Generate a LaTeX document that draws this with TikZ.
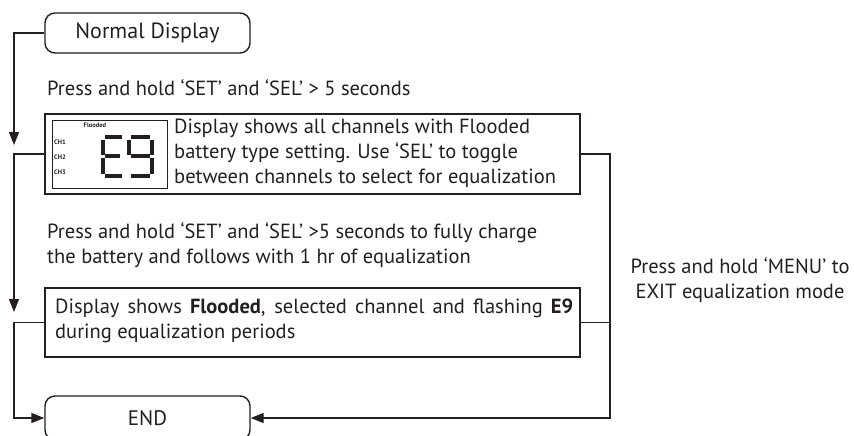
\documentclass[tikz,border=0pt]{standalone}
\usepackage{fontspec}
\setmainfont{PT Sans}
\usetikzlibrary{arrows.meta}
\definecolor{ink}{HTML}{231F20}
\begin{document}
\begin{tikzpicture}[x=1pt,y=-1pt,
  line/.style={draw=ink,line width=1.4pt},
  arr/.style={line,-{Triangle[length=13pt,width=10pt]}},
  term/.style={draw=ink,line width=1.4pt,rounded corners=10pt,minimum width=205pt,minimum height=40pt,inner sep=0pt,font=\fontsize{21}{24}\selectfont,text=ink},
  box/.style={draw=ink,line width=1.4pt,minimum width=535pt,inner sep=0pt},
  txt/.style={font=\fontsize{20.5}{25}\selectfont,text=ink,inner sep=0pt,anchor=west,align=left},
  tiny/.style={font=\fontsize{6.5}{6.5}\bfseries\selectfont,text=ink,inner sep=0pt},
  seg/.style={draw=ink,line width=3.6pt},
  ]
\useasboundingbox (0,0) rectangle (854,436);
\clip (0,0) rectangle (854,436);
% nodes
\node[term,font=\fontsize{22}{24}\selectfont] (normal) at (147.5,33) {Normal Display};
\node[txt] (t1) at (47,88) {Press and hold ‘SET’ and ‘SEL’ > 5 seconds};
\node[box,minimum height=80pt] (b2) at (312.5,154) {};
\node[draw=ink,line width=1pt,minimum width=115pt,minimum height=68pt,inner sep=0pt] (lcd) at (109.5,154) {};
\node[tiny] (fl) at (95,125) {Flooded};
\node[tiny] (ch1) at (60,142) {CH1};
\node[tiny] (ch2) at (60,157) {CH2};
\node[tiny] (ch3) at (60,172) {CH3};
\node[txt] (t2) at (174,153) {Display shows all channels with Flooded\\battery type setting. Use ‘SEL’ to toggle\\between channels to select for equalization};
\node[txt] (t3) at (47,245) {Press and hold ‘SET’ and ‘SEL’ >5 seconds to fully charge\\the battery and follows with 1 hr of equalization};
\node[box,minimum height=69pt] (b3) at (312.5,322.5) {};
\node[txt] (t4) at (55,320.5) {\makebox[518pt][s]{Display shows \textbf{Flooded}, selected channel and flashing \textbf{E9}}\\during equalization periods};
\node[term,minimum height=44pt] (end) at (147.5,418) {END};
\node[txt,align=center,anchor=center] (t5) at (740,280) {Press and hold ‘MENU’ to\\EXIT equalization mode};
% E9 segments
\draw[seg] (105,137) -- (122,137);
\draw[seg] (103,139.5) -- (103,154.5);
\draw[seg] (105,156) -- (120,156);
\draw[seg] (103,157.5) -- (103,173.5);
\draw[seg] (105,176) -- (122,176);
\draw[seg] (131,137) -- (150,137);
\draw[seg] (129,139.5) -- (129,154.5);
\draw[seg] (152,139.5) -- (152,154.5);
\draw[seg] (131,156) -- (150,156);
\draw[seg] (152,157.5) -- (152,173.5);
\draw[seg] (131,176) -- (150,176);
% connectors
\coordinate (a1) at (14,145);
\coordinate (a2) at (14,312);
\coordinate (c3) at (14,418);
\coordinate (r) at (610,418);
\draw[arr] (normal.west) -| (a1);
\draw[arr] (b2.west) -| (a2);
\draw[arr] (b3.west) -| (c3) -- (end.west);
\draw[arr] (b2.east) -| (r) -- (end.east);
\draw[line] (b3.east) -- (b3.east -| r);
\end{tikzpicture}
\end{document}
